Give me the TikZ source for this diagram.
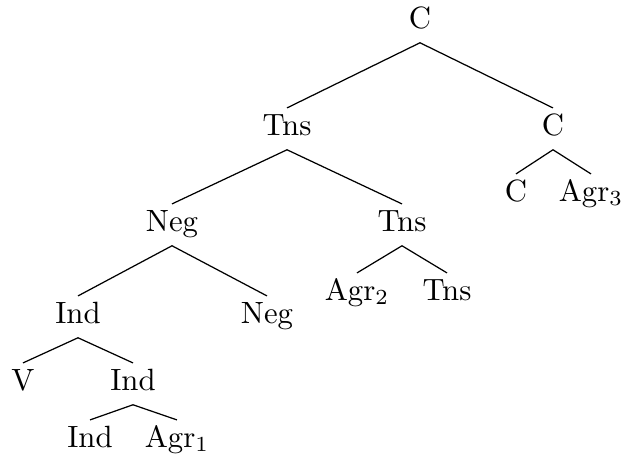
\documentclass[tikz,border=0pt]{standalone}
\begin{document}
\begin{tikzpicture}[x=0.325pt,y=-0.325pt,
  tn/.style={anchor=base,text height=7pt,text depth=3pt,inner ysep=1.6pt,inner xsep=0pt},
  br/.style={line width=0.4pt}]
\useasboundingbox (0,0) rectangle (623,465);
\node[tn] (c0) at (420,28) {C};
\node[tn] (t1) at (287,135) {Tns};
\node[tn] (c1) at (553,135) {C};
\node[tn] (c2) at (516,201) {C};
\node[tn] (a3) at (591,201) {Agr$_3$};
\node[tn] (n1) at (172,231) {Neg};
\node[tn] (t2) at (402,231) {Tns};
\node[tn] (a2) at (357,300) {Agr$_2$};
\node[tn] (t3) at (447,300) {Tns};
\node[tn] (i1) at (78,323) {Ind};
\node[tn] (n2) at (267,323) {Neg};
\node[tn] (v) at (23,390) {V};
\node[tn] (i2) at (133,390) {Ind};
\node[tn] (i3) at (90,447) {Ind};
\node[tn] (a1) at (177,447) {Agr$_1$};
\draw[br] (t1.north) -- (c0.south) -- (c1.north);
\draw[br] (c2.north) -- (c1.south) -- (a3.north);
\draw[br] (n1.north) -- (t1.south) -- (t2.north);
\draw[br] (a2.north) -- (t2.south) -- (t3.north);
\draw[br] (i1.north) -- (n1.south) -- (n2.north);
\draw[br] (v.north) -- (i1.south) -- (i2.north);
\draw[br] (i3.north) -- (i2.south) -- (a1.north);
\end{tikzpicture}
\end{document}
